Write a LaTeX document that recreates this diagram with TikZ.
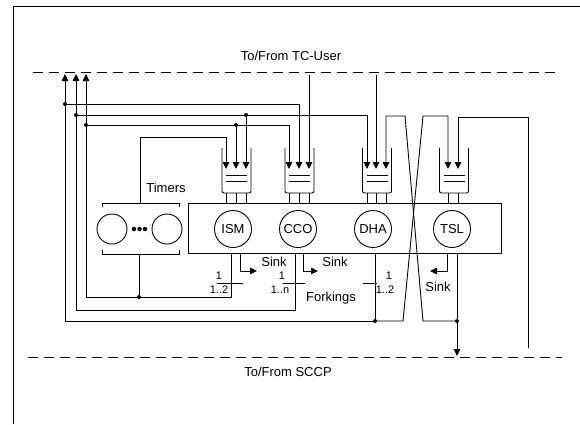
\documentclass[tikz,border=0pt]{standalone}
\usepackage{fontspec}
\setmainfont{Liberation Sans}
\usetikzlibrary{arrows.meta}
\begin{document}
\begin{tikzpicture}[x=1pt,y=-1pt,
  ln/.style={line width=0.9pt},
  tip/.style={-{Triangle[length=7pt,width=6.5pt]}},
  jdot/.style={circle,fill,inner sep=0pt,minimum size=4pt},
  proc/.style={circle,draw,line width=0.9pt,minimum size=37pt,inner sep=0pt,font=\fontsize{13}{15}\selectfont},
  tmr/.style={circle,draw,line width=0.9pt,minimum size=30pt,inner sep=0pt},
  lbl/.style={inner sep=0pt,font=\fontsize{13}{15}\selectfont},
  num/.style={inner sep=0pt,font=\fontsize{11}{12}\selectfont},
  bus/.style={line width=0.9pt,dash pattern=on 10pt off 6pt},
  queue/.pic={
    \draw[line width=0.9pt,rounded corners=2pt] (-14.5,0) -- (-14.5,45) -- (14.5,45) -- (14.5,0);
    \draw[line width=0.9pt] (-10.5,27) -- (10.5,27) (-10.5,33) -- (10.5,33);
  }]
\useasboundingbox (0,0) rectangle (580,424);

% frame
\draw[line width=1pt] (13,424) -- (13,6) -- (580,6);

% buses
\coordinate (tl) at (33,72); \coordinate (tr) at (558,72);
\draw[bus] (tl) -- (tr);
\node[lbl] (tcuser) at (291,56) {To/From TC-User};
\coordinate (bl) at (28,357); \coordinate (br) at (562,357);
\draw[bus] (bl) -- (br);
\node[lbl] (sccp) at (288,372) {To/From SCCP};

% main box and processes
\node[draw,line width=0.9pt,minimum width=313pt,minimum height=50pt,inner sep=0pt] (box) at (344.5,228) {};
\node[proc] (ism) at (233,229) {ISM};
\node[proc] (cco) at (298,229) {CCO};
\node[proc] (dha) at (373,229) {DHA};
\node[proc] (tsl) at (452,229) {TSL};

% timers
\node[tmr] (t1) at (112,229) {};
\node[tmr] (t2) at (167,229) {};
\node[jdot,minimum size=4.5pt] (td1) at (134,229) {};
\node[jdot,minimum size=4.5pt] (td2) at (139.5,229) {};
\node[jdot,minimum size=4.5pt] (td3) at (145,229) {};
\draw[ln] (102,207) -- (102,203) -- (179,203) -- (179,207);
\draw[ln] (102,250) -- (102,254) -- (179,254) -- (179,250);
\node[lbl] (timers) at (166,188) {Timers};
\coordinate (ttop) at (140,203);
\coordinate (tbot) at (139,254);

% queues
\pic at (236.5,148) {queue};
\pic at (299.5,148) {queue};
\pic at (377,148) {queue};
\pic at (454,148) {queue};
\foreach \x in {226,236,246,289,299,309,367,376,386,448,458}
  \draw[ln] (\x,193) -- (\x,203);

% queue inputs (arrow tips)
\coordinate (qa1) at (226,169); \coordinate (qa2) at (236,169); \coordinate (qa3) at (246,169);
\coordinate (qb1) at (289,169); \coordinate (qb2) at (299,169); \coordinate (qb3) at (309,169);
\coordinate (qc1) at (367,169); \coordinate (qc2) at (376,169); \coordinate (qc3) at (386,169);
\coordinate (qd1) at (448,169); \coordinate (qd2) at (458,169);

% up arrows to TC-User
\coordinate (u1) at (65,74); \coordinate (u2) at (76,74); \coordinate (u3) at (86,74);
\coordinate (c1) at (65,321); \coordinate (c2) at (76,310); \coordinate (c3) at (86,297);

% junctions
\node[jdot] (j1) at (65,104) {};
\node[jdot] (j2) at (76,115) {};
\node[jdot] (j3) at (86,125) {};
\node[jdot] (j4) at (246,115) {};
\node[jdot] (j5) at (236,125) {};
\node[jdot] (j6) at (139,297) {};
\node[jdot] (j7) at (375,321) {};
\node[jdot] (j8) at (457,321) {};

% box outputs
\coordinate (ismo) at (231,253);
\coordinate (ccoo) at (295,253);
\coordinate (dhao) at (375,253);
\coordinate (tslo) at (457,253);
\coordinate (sccpdn) at (457,356);
\coordinate (sccpin) at (528,348);

% DHA output
\draw[ln] (dhao) -- (j7);
\draw[ln,tip] (j7) -- (c1) -- (u1);
\draw[ln,tip] (j7) -- (403,321) -- (423,116) -- (448,116) -- (qd1);
\draw[ln,tip] (j1) -| (qb2);

% TSL output
\draw[ln,tip] (tslo) -- (sccpdn);
\draw[ln,tip] (j8) -- (423,321) -- (405,116) -- (386,116) -- (qc3);
\draw[ln,tip] (sccpin) -- (528,117) -- (458,117) -- (qd2);

% ISM output
\draw[ln,tip] (ismo) -- (231,297) -- (c3) -- (u3);
\draw[ln,tip] (j3) -| (qb1);
\draw[ln,tip] (j5) -- (qa2);
\draw[ln] (tbot) -- (j6);

% CCO output
\draw[ln,tip] (ccoo) -- (295,310) -- (c2) -- (u2);
\draw[ln,tip] (j2) -| (qc1);
\draw[ln,tip] (j4) -- (qa3);

% Timers input to ISM
\draw[ln,tip] (ttop) -- (140,137) -| (qa1);

% from TC-User
\draw[ln,tip] (309,75) -- (qb3);
\draw[ln,tip] (376,75) -- (qc2);

% sinks
\draw[ln,tip] (240,253) -- (240,271) -- (257,271);
\node[lbl] (sink1) at (274,262) {Sink};
\draw[ln,tip] (303,253) -- (303,271) -- (318,271);
\node[lbl] (sink2) at (335,262) {Sink};
\draw[ln,tip] (447,253) -- (447,271) -- (430,271);
\node[lbl] (sink3) at (438,287) {Sink};

% forkings
\draw[ln] (217,283) -- (243,283);
\node[num] (f1a) at (219,276) {1};
\node[num] (f1b) at (219,290) {1..2};
\draw[ln] (283,283) -- (305,283);
\node[num] (f2a) at (282,276) {1};
\node[num] (f2b) at (280,290) {1..n};
\draw[ln] (363,283) -- (377,283);
\node[num] (f3a) at (389,276) {1};
\node[num] (f3b) at (385,290) {1..2};
\node[lbl] (fork) at (331,298) {Forkings};
\end{tikzpicture}
\end{document}
